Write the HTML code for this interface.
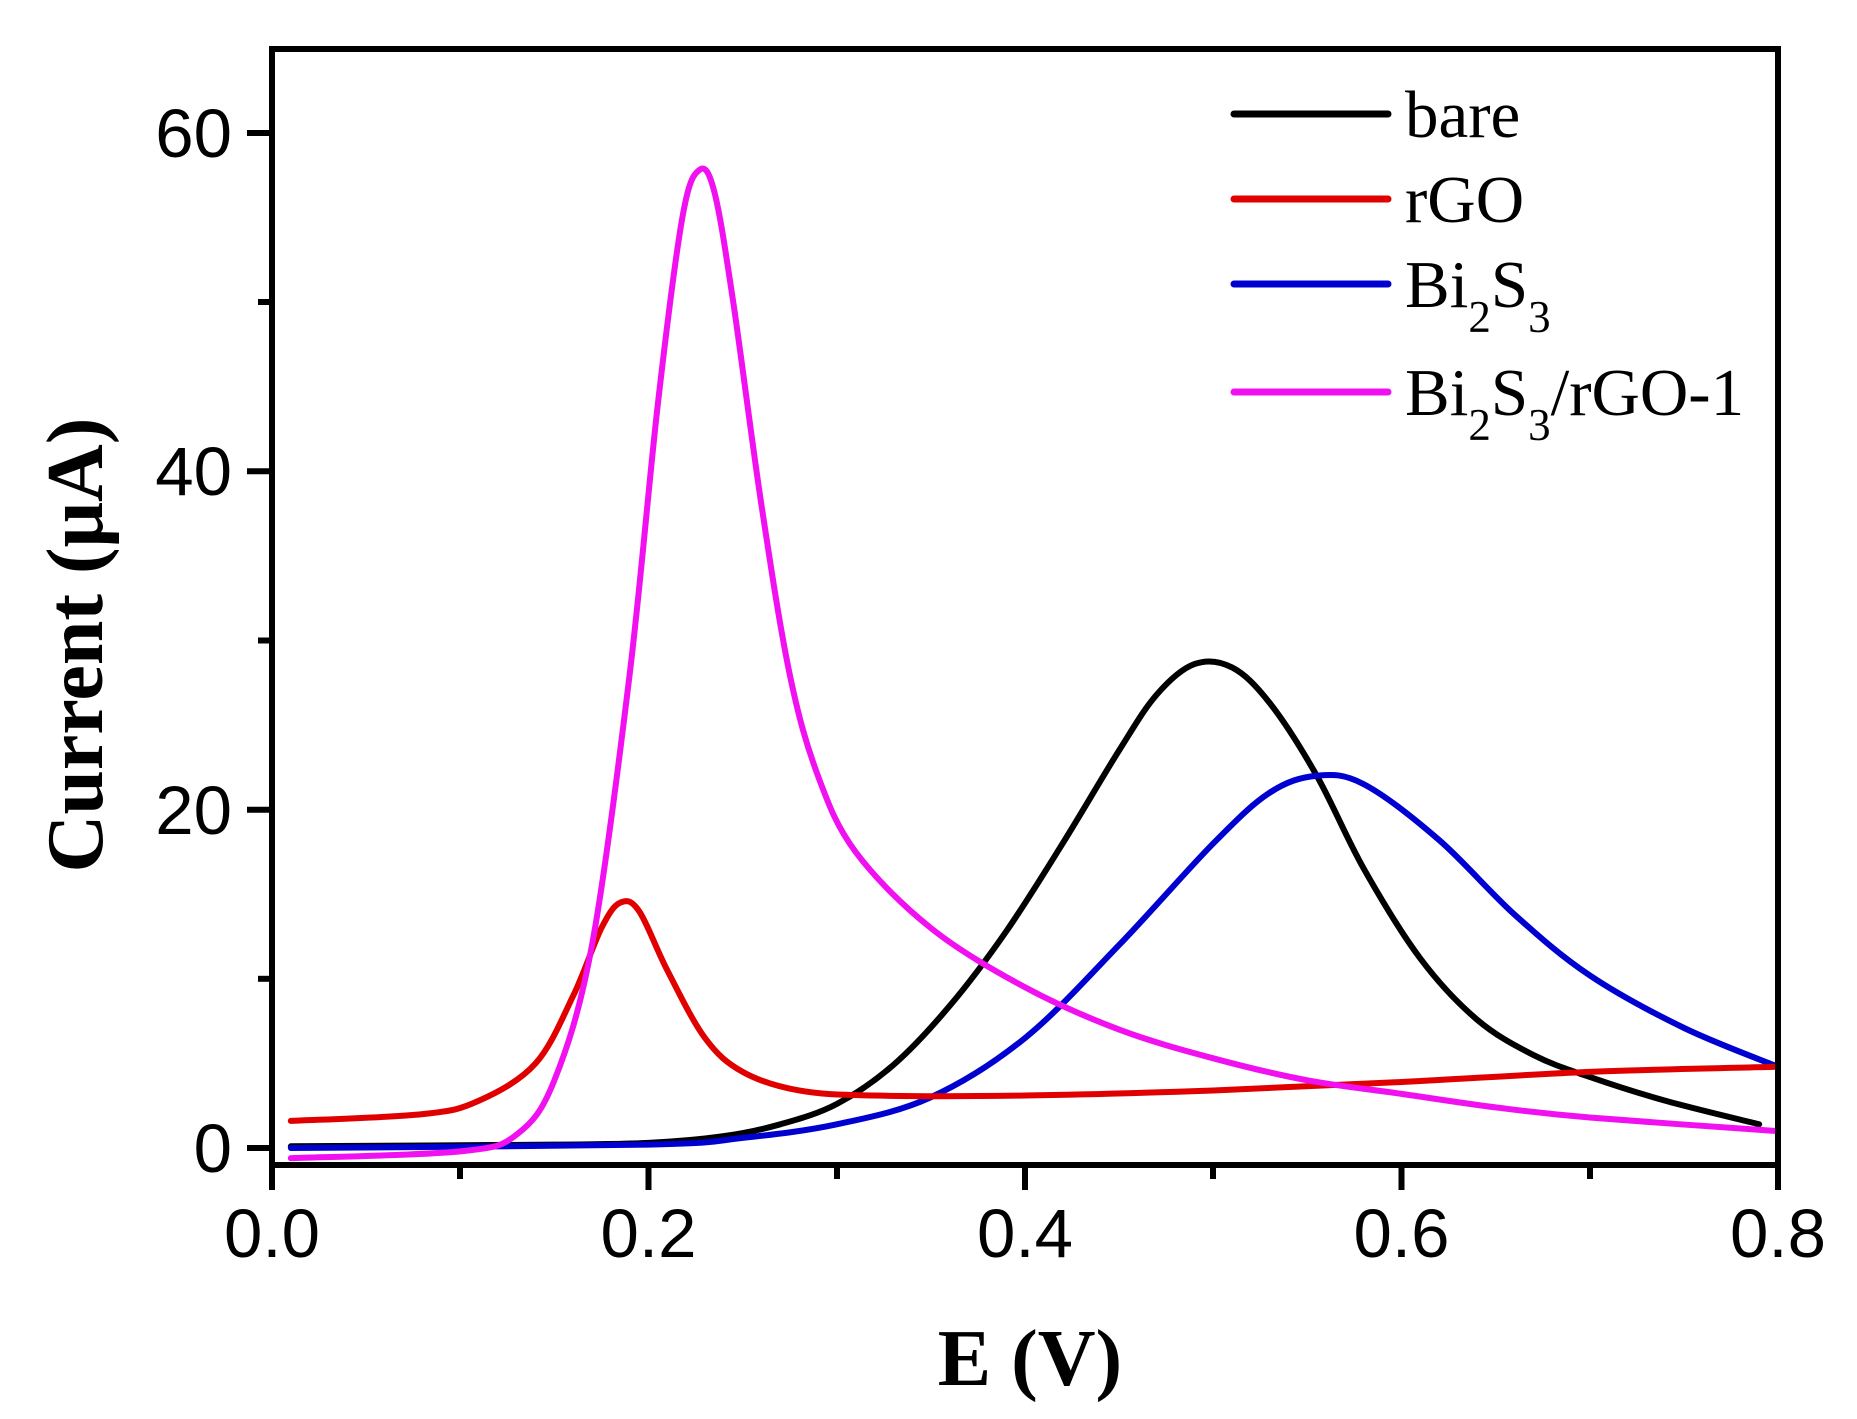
<!DOCTYPE html>
<html><head><meta charset="utf-8"><style>html,body{margin:0;padding:0;background:#fff}svg{display:block}</style></head>
<body>
<svg id="s" width="1857" height="1419" xmlns="http://www.w3.org/2000/svg">
<rect width="1857" height="1419" fill="#fff"/>
<g id="curves" fill="none" stroke-width="6" stroke-linejoin="round" stroke-linecap="round"></g>
<g stroke="#000" stroke-width="6" fill="none">
<rect x="272" y="49" width="1506" height="1116"/>
<line x1="272" y1="1165" x2="272" y2="1190"/><line x1="648.5" y1="1165" x2="648.5" y2="1190"/><line x1="1025" y1="1165" x2="1025" y2="1190"/><line x1="1401.5" y1="1165" x2="1401.5" y2="1190"/><line x1="1778" y1="1165" x2="1778" y2="1190"/>
<line x1="460" y1="1165" x2="460" y2="1179"/><line x1="837" y1="1165" x2="837" y2="1179"/><line x1="1213" y1="1165" x2="1213" y2="1179"/><line x1="1590" y1="1165" x2="1590" y2="1179"/>
<line x1="247" y1="1148" x2="272" y2="1148"/><line x1="247" y1="809.7" x2="272" y2="809.7"/><line x1="247" y1="471.3" x2="272" y2="471.3"/><line x1="247" y1="133" x2="272" y2="133"/>
<line x1="258" y1="978.8" x2="272" y2="978.8"/><line x1="258" y1="640.5" x2="272" y2="640.5"/><line x1="258" y1="302" x2="272" y2="302"/>
</g>
<g font-family="Liberation Sans, sans-serif" font-size="69" fill="#000">
<g text-anchor="middle">
<text x="272" y="1257">0.0</text><text x="648.5" y="1257">0.2</text><text x="1025" y="1257">0.4</text><text x="1401.5" y="1257">0.6</text><text x="1778" y="1257">0.8</text>
</g>
<g text-anchor="end">
<text x="232" y="1172">0</text><text x="232" y="834">20</text><text x="232" y="495">40</text><text x="232" y="157">60</text>
</g>
</g>
<g font-family="Liberation Serif, serif" font-weight="bold" font-size="80" text-anchor="middle">
<text x="1030" y="1385">E (V)</text>
<text transform="translate(102,645) rotate(-90)">Current (μA)</text>
</g>
<g stroke-width="7" stroke-linecap="round">
<line x1="1234" y1="114" x2="1388" y2="114" stroke="#000"/>
<line x1="1234" y1="199" x2="1388" y2="199" stroke="#e00000"/>
<line x1="1234" y1="284" x2="1388" y2="284" stroke="#0000d0"/>
<line x1="1234" y1="392" x2="1388" y2="392" stroke="#f010f0"/>
</g>
<g font-family="Liberation Serif, serif" font-size="67" fill="#000">
<text x="1405" y="137">bare</text>
<text x="1405" y="222">rGO</text>
<text x="1405" y="307">Bi<tspan font-size="45" dy="25">2</tspan><tspan dy="-25">S</tspan><tspan font-size="45" dy="25">3</tspan></text>
<text x="1405" y="415">Bi<tspan font-size="45" dy="25">2</tspan><tspan dy="-25">S</tspan><tspan font-size="45" dy="25">3</tspan><tspan dy="-25">/rGO-1</tspan></text>
</g>
</svg>
<script>
var X=function(e){return 272+e*1882.5},Y=function(i){return 1148-i*16.92};
var data=[
["#000",[[0.01,0.1],[0.15,0.2],[0.2,0.3],[0.24,0.7],[0.27,1.4],[0.3,2.6],[0.33,4.9],[0.36,8.4],[0.39,12.8],[0.42,18],[0.45,23.5],[0.47,26.8],[0.49,28.6],[0.51,28.4],[0.53,26.3],[0.555,22],[0.58,16.5],[0.61,11.2],[0.64,7.6],[0.67,5.5],[0.7,4.2],[0.74,2.8],[0.79,1.4]]],
["#0000d0",[[0.01,0],[0.2,0.2],[0.25,0.6],[0.3,1.4],[0.35,3],[0.4,6.5],[0.45,12],[0.5,18],[0.53,21],[0.555,22],[0.58,21.5],[0.62,18.2],[0.66,13.8],[0.7,10.2],[0.75,7.1],[0.8,4.8]]],
["#e00000",[[0.01,1.6],[0.08,2],[0.11,2.8],[0.14,5],[0.16,9],[0.175,13],[0.185,14.5],[0.195,14],[0.21,10.5],[0.23,6.5],[0.25,4.5],[0.28,3.4],[0.32,3.1],[0.4,3.1],[0.5,3.4],[0.6,3.9],[0.7,4.5],[0.8,4.8]]],
["#f010f0",[[0.01,-0.6],[0.1,-0.2],[0.13,0.8],[0.15,4],[0.17,12],[0.19,28],[0.205,44],[0.218,55],[0.227,57.8],[0.235,56.5],[0.245,50],[0.26,38],[0.275,28],[0.29,22],[0.31,17.5],[0.35,13],[0.4,9.5],[0.45,7],[0.5,5.3],[0.55,4],[0.6,3.2],[0.65,2.4],[0.7,1.8],[0.8,1]]]
];
var g=document.getElementById("curves");
data.forEach(function(d){
 var p=d[1].map(function(q){return [X(q[0]),Y(q[1])]});
 var s="M"+p[0][0]+","+p[0][1];
 for(var i=0;i<p.length-1;i++){
  var p0=p[i-1]||p[i],p1=p[i],p2=p[i+1],p3=p[i+2]||p2;
  var c1=[p1[0]+(p2[0]-p0[0])/6,p1[1]+(p2[1]-p0[1])/6];
  var c2=[p2[0]-(p3[0]-p1[0])/6,p2[1]-(p3[1]-p1[1])/6];
  s+=" C"+c1+" "+c2+" "+p2;
 }
 var e=document.createElementNS("http://www.w3.org/2000/svg","path");
 e.setAttribute("d",s);e.setAttribute("stroke",d[0]);g.appendChild(e);
});
</script>
</body></html>
